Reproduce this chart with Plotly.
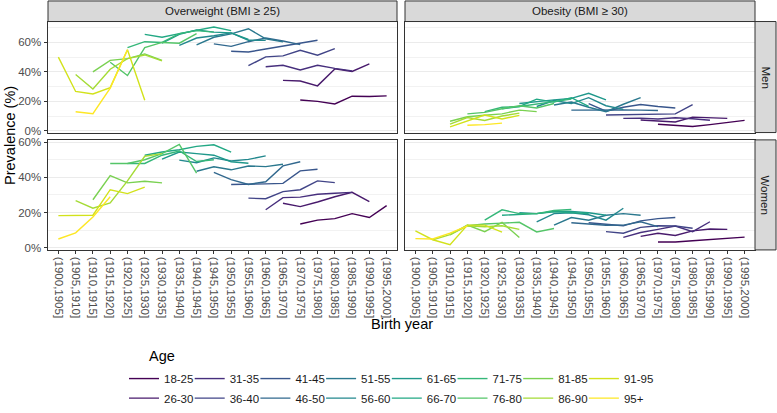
import plotly.graph_objects as go

# ---------------- data ----------------
cohorts = ["(1900,1905]", "(1905,1910]", "(1910,1915]", "(1915,1920]", "(1920,1925]",
           "(1925,1930]", "(1930,1935]", "(1935,1940]", "(1940,1945]", "(1945,1950]",
           "(1950,1955]", "(1955,1960]", "(1960,1965]", "(1965,1970]", "(1970,1975]",
           "(1975,1980]", "(1980,1985]", "(1985,1990]", "(1990,1995]", "(1995,2000]"]

ages = ["18-25", "26-30", "31-35", "36-40", "41-45", "46-50", "51-55", "56-60",
        "61-65", "66-70", "71-75", "76-80", "81-85", "86-90", "91-95", "95+"]

colors = ["#440154", "#481A6C", "#472F7D", "#414487", "#39568C", "#31688E", "#2A788E", "#23888E",
          "#1F988B", "#22A884", "#35B779", "#54C568", "#7AD151", "#A5DB36", "#D2E21B", "#FDE725"]

# first cohort index of each age group's series, per panel
men_ow_start = [14, 13, 12, 11, 10, 9, 8, 7, 6, 5, 4, 3, 2, 1, 0, 1]
men_ow = [
    [20.9, 20.0, 18.2, 23.5, 23.3, 23.7],
    [34.2, 33.8, 30.5, 42.0, 40.3, 45.5],
    [43.5, 44.5, 41.3, 44.5, 42.4, 40.7],
    [44.2, 50.2, 50.9, 54.7, 51.3, 55.8],
    [54.0, 53.5, 55.5, 57.5, 59.1, 61.5],
    [59.0, 57.3, 60.5, 63.0, 61.0, 58.5],
    [58.4, 63.5, 65.8, 69.3, 62.5, 60.4],
    [58.0, 63.0, 64.5, 66.5, 61.5, 61.5],
    [59.5, 65.5, 68.5, 67.0, 66.5, 62.0],
    [65.5, 63.5, 66.0, 68.0, 70.5, 68.0],
    [56.5, 60.5, 60.0, 66.0, 68.0, 67.0],
    [46.5, 37.5, 56.5, 60.0, 59.5, 66.0],
    [40.0, 47.8, 49.0, 52.2, 47.8],
    [38.2, 28.4, 41.8, 49.0, 51.5, 47.5],
    [50.0, 26.7, 25.0, 29.3, 55.0, 20.7],
    [12.9, 11.6, 29.0, 55.0],
]

men_ob_start = [14, 13, 12, 11, 10, 9, 8, 7, 6, 5, 4, 3, 2, 2, 2, 3]
men_ob = [
    [4.4, 3.8, 2.9, 4.2, 5.5, 7.1],
    [7.3, 6.8, 6.0, 9.3, 8.8, 8.4],
    [8.4, 8.6, 8.0, 8.8, 8.2, 7.1],
    [10.7, 11.0, 11.2, 11.3, 11.5, 17.8],
    [18.4, 13.3, 16.0, 17.8, 16.5, 15.5],
    [14.0, 14.2, 14.0, 14.1, 14.0, 13.8],
    [17.5, 19.5, 16.0, 13.0, 18.0, 22.5],
    [16.5, 20.5, 18.5, 22.5, 17.0, 14.5],
    [18.5, 20.0, 21.0, 22.0, 25.5, 21.0],
    [15.0, 16.5, 21.5, 19.5, 22.5, 16.5],
    [13.0, 16.0, 16.5, 18.0, 20.0, 21.5],
    [11.5, 12.5, 15.0, 17.0, 15.5, 18.5],
    [6.5, 9.5, 10.5, 11.5, 14.0, 13.0],
    [4.5, 9.0, 7.0, 10.0, 12.0],
    [2.7, 6.5, 10.7, 8.0, 10.5],
    [3.8, 4.2, 5.2],
]

women_ow_start = [14, 13, 12, 11, 10, 9, 8, 7, 6, 5, 4, 3, 2, 1, 0, 0]
women_ow = [
    [13.5, 15.7, 16.6, 19.4, 17.2, 24.0],
    [25.3, 23.4, 26.0, 29.0, 31.5, 26.2],
    [21.6, 28.5, 28.8, 30.4, 31.0, 31.5],
    [28.2, 27.9, 31.9, 33.0, 38.0, 37.0],
    [36.0, 36.0, 36.3, 36.6, 43.7, 44.6],
    [42.8, 38.7, 36.0, 37.5, 46.5, 48.9],
    [43.5, 46.0, 44.3, 46.5, 46.1, 47.5],
    [49.8, 48.3, 51.1, 49.3, 50.2, 52.2],
    [50.4, 54.4, 53.5, 52.6, 48.9, 48.0],
    [52.6, 54.4, 55.7, 57.6, 58.5, 54.4],
    [47.9, 47.9, 52.6, 55.0, 49.0, 50.0],
    [47.9, 47.9, 50.0, 53.5, 58.7, 42.4],
    [27.3, 41.0, 36.9, 37.8, 36.9],
    [26.8, 22.5, 25.5, 38.0, 52.0, 53.5],
    [18.3, 18.3, 18.5, 33.0, 30.8, 34.5],
    [5.0, 8.5, 17.5, 29.0],
]

women_ob_start = [14, 13, 12, 11, 10, 9, 8, 7, 6, 5, 4, 3, 2, 1, 0, 0]
women_ob = [
    [3.3, 3.3, 4.0, 4.6, 5.2, 6.1],
    [6.5, 8.3, 7.0, 9.6, 10.7, 10.5],
    [5.9, 8.7, 10.5, 12.4, 9.2, 14.8],
    [9.2, 8.3, 11.6, 12.5, 12.4, 11.1],
    [14.2, 13.3, 12.5, 15.3, 16.6, 17.2],
    [14.2, 13.5, 12.8, 12.9, 14.8, 12.0],
    [12.9, 17.2, 15.7, 18.5, 19.4, 18.5],
    [14.8, 19.4, 19.9, 18.8, 15.7, 22.5],
    [20.0, 19.4, 20.7, 20.7, 19.9, 18.5],
    [18.5, 19.0, 19.4, 20.5, 20.0, 19.5],
    [15.7, 21.6, 19.4, 19.4, 21.2, 21.8],
    [12.5, 13.5, 14.0, 14.5, 9.0, 11.0],
    [7.4, 12.9, 9.2, 14.4, 5.9],
    [4.6, 7.5, 12.5, 12.0, 12.5, 10.5],
    [9.6, 4.6, 1.8, 12.9, 12.9, 8.9],
    [5.2, 5.0, 8.3, 12.5],
]

col_titles = ["Overweight (BMI \u2265 25)", "Obesity (BMI \u2265 30)"]
row_titles = ["Men", "Women"]

# ---------------- layout geometry (px) ----------------
W, H = 777, 413
FONT = "Liberation Sans, Arial, sans-serif"


def fx(px):
    return px / W


def fy(py):
    return 1 - py / H


col_px = [(48, 397), (405, 755)]
row_px = [(22, 135.5), (143, 255.5)]
strip_top = (1, 22)
strip_right = (755, 776)
yranges = [[-1.2, 74.2], [-1.2, 61.3]]

fig = go.Figure()

panels = [
    (0, 0, men_ow_start, men_ow),
    (0, 1, men_ob_start, men_ob),
    (1, 0, women_ow_start, women_ow),
    (1, 1, women_ob_start, women_ob),
]

for r, c, starts, rows in panels:
    n = r * 2 + c + 1
    xa = "x" if n == 1 else f"x{n}"
    ya = "y" if n == 1 else f"y{n}"
    for k, (age, col) in enumerate(zip(ages, colors)):
        vals = rows[k]
        s = starts[k]
        fig.add_trace(go.Scatter(
            x=cohorts[s:s + len(vals)], y=vals, mode="lines",
            line=dict(color=col, width=1.4),
            name=age, legendgroup=age,
            showlegend=(n == 1),
            legend="legend" if k % 2 == 0 else "legend2",
            legendrank=k,
            legendwidth=40 if k >= 14 else None,
            xaxis=xa, yaxis=ya,
            hovertemplate=age + "<br>%{x}<br>%{y:.1f}%<extra></extra>",
        ))

layout = dict(
    template="none",
    width=W, height=H, autosize=False,
    margin=dict(l=0, r=0, t=0, b=0, pad=0),
    paper_bgcolor="white", plot_bgcolor="white",
    font=dict(family=FONT, color="#1A1A1A"),
    shapes=[], annotations=[],
)

for r in range(2):
    for c in range(2):
        n = r * 2 + c + 1
        xk = "xaxis" if n == 1 else f"xaxis{n}"
        yk = "yaxis" if n == 1 else f"yaxis{n}"
        ya = "y" if n == 1 else f"y{n}"
        xa = "x" if n == 1 else f"x{n}"
        bottom = (r == 1)
        left = (c == 0)
        layout[xk] = dict(
            domain=[fx(col_px[c][0]), fx(col_px[c][1])],
            anchor=ya, type="category", categoryorder="array", categoryarray=cohorts,
            range=[-0.6, 19.6], showgrid=False, zeroline=False, automargin=False,
            showline=True, linecolor="#333333", linewidth=1, mirror=True,
            ticks="outside" if bottom else "", ticklen=3.5, tickwidth=1, tickcolor="#333333",
            showticklabels=bottom, tickangle=90,
            tickfont=dict(family=FONT, size=11.5, color="#4D4D4D"),
            fixedrange=True,
        )
        layout[yk] = dict(
            domain=[fy(row_px[r][1]), fy(row_px[r][0])],
            anchor=xa, range=yranges[r], tickmode="linear", tick0=0, dtick=20,
            ticksuffix="%", showgrid=True, gridcolor="#EBEBEB", gridwidth=1,
            minor=dict(dtick=10, tick0=0, showgrid=True, gridcolor="#F2F2F2", gridwidth=0.6),
            zeroline=False, automargin=False,
            showline=True, linecolor="#333333", linewidth=1, mirror=True,
            ticks="outside" if left else "", ticklen=3.5, tickwidth=1, tickcolor="#333333",
            showticklabels=left,
            tickfont=dict(family=FONT, size=11.5, color="#4D4D4D"),
            fixedrange=True,
        )

# strips
for c in range(2):
    layout["shapes"].append(dict(
        type="rect", xref="paper", yref="paper",
        x0=fx(col_px[c][0]), x1=fx(col_px[c][1]), y0=fy(strip_top[1]), y1=fy(strip_top[0]),
        fillcolor="#D9D9D9", line=dict(color="#333333", width=1), layer="above"))
    layout["annotations"].append(dict(
        text=col_titles[c], xref="paper", yref="paper",
        x=fx((col_px[c][0] + col_px[c][1]) / 2), y=fy((strip_top[0] + strip_top[1]) / 2),
        showarrow=False, xanchor="center", yanchor="middle",
        font=dict(family=FONT, size=11.5, color="#1A1A1A")))
for r in range(2):
    layout["shapes"].append(dict(
        type="rect", xref="paper", yref="paper",
        x0=fx(strip_right[0]), x1=fx(strip_right[1]), y0=fy(row_px[r][1]), y1=fy(row_px[r][0]),
        fillcolor="#D9D9D9", line=dict(color="#333333", width=1), layer="above"))
    layout["annotations"].append(dict(
        text=row_titles[r], xref="paper", yref="paper",
        x=fx((strip_right[0] + strip_right[1]) / 2), y=fy((row_px[r][0] + row_px[r][1]) / 2),
        showarrow=False, xanchor="center", yanchor="middle", textangle=90,
        font=dict(family=FONT, size=11.5, color="#1A1A1A")))

# axis titles
layout["annotations"].append(dict(
    text="Prevalence (%)", xref="paper", yref="paper", x=fx(10), y=fy(139),
    showarrow=False, xanchor="center", yanchor="middle", textangle=-90,
    font=dict(family=FONT, size=14.5, color="#000000")))
layout["annotations"].append(dict(
    text="Birth year", xref="paper", yref="paper", x=fx(401.5), y=fy(331),
    showarrow=False, xanchor="center", yanchor="middle",
    font=dict(family=FONT, size=14.5, color="#000000")))
layout["annotations"].append(dict(
    text="Age", xref="paper", yref="paper", x=fx(147), y=fy(364),
    showarrow=False, xanchor="left", yanchor="middle",
    font=dict(family=FONT, size=14.5, color="#000000")))

leg_common = dict(
    orientation="h", xanchor="left", yanchor="middle",
    entrywidth=20.7, entrywidthmode="pixels", itemwidth=30,
    font=dict(family=FONT, size=11.5, color="#1A1A1A"),
    bgcolor="rgba(0,0,0,0)", borderwidth=0, traceorder="normal",
)
layout["legend"] = dict(leg_common, x=fx(124), y=fy(387))
layout["legend2"] = dict(leg_common, x=fx(124), y=fy(407))

fig.update_layout(**layout)
fig.write_html("out.html",
               config={"displayModeBar": False},
               post_script="document.body.style.margin='0';document.body.style.padding='0';"
                           "document.body.style.overflow='hidden';")
